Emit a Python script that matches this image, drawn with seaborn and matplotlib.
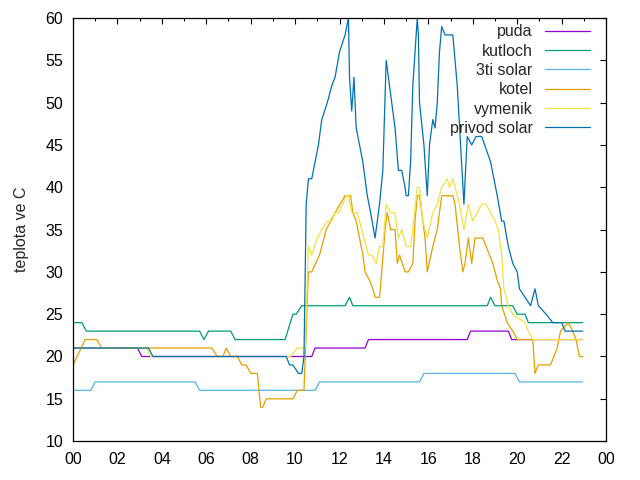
import matplotlib
matplotlib.use("Agg")
import matplotlib.pyplot as plt
import seaborn as sns

# hours of day and temperatures (deg C)
puda_t = [0, 2.9, 3.1, 10.75, 10.9, 13.15, 13.3, 17.75, 17.9, 19.6, 19.75, 22.95]
puda_v = [21, 21, 20, 20, 21, 21, 22, 22, 23, 23, 22, 22]

kutloch_t = [0, 0.4, 0.6, 5.7, 5.9, 6.1, 7.1, 7.3, 9.55, 9.9, 10.05, 10.3,
             12.25, 12.45, 12.6, 18.65, 18.8, 19.0, 19.8, 20.0, 20.35, 20.5, 22.95]
kutloch_v = [24, 24, 23, 23, 22, 23, 23, 22, 22, 25, 25, 26,
             26, 27, 26, 26, 27, 26, 26, 25, 25, 24, 24]

solar3_t = [0, 0.8, 1.0, 5.5, 5.7, 10.9, 11.1, 15.6, 15.8, 19.9, 20.1, 22.95]
solar3_v = [16, 16, 17, 17, 16, 16, 17, 17, 18, 18, 17, 17]

kotel_t = [0, 0.55, 1.07, 1.3, 6.25, 6.5, 6.75, 6.9, 7.1, 7.4, 7.6, 7.8, 8.0, 8.3,
           8.45, 8.55, 8.7, 9.9, 10.1, 10.4, 10.6, 10.75, 11.1, 11.4, 11.6, 11.8,
           12.25, 12.5, 12.6, 12.75, 12.9, 13.05, 13.15, 13.35, 13.5, 13.6, 13.8,
           13.9, 14.05, 14.15, 14.3, 14.5, 14.6, 14.7, 14.95, 15.1, 15.3, 15.4,
           15.5, 15.6, 15.7, 15.85, 15.95, 16.2, 16.4, 16.6, 17.1, 17.2, 17.4,
           17.55, 17.65, 17.8, 17.9, 17.95, 18.1, 18.45, 18.6, 18.9, 19.1, 19.25,
           19.3, 19.55, 19.8, 20.0, 20.7, 20.8, 20.95, 21.5, 21.65, 21.8, 21.95,
           22.3, 22.5, 22.65, 22.8, 22.95]
kotel_v = [19, 22, 22, 21, 21, 20, 20, 21, 20, 20, 19, 19, 18, 18,
           14, 14, 15, 15, 16, 16, 30, 30, 32, 35, 36, 37,
           39, 39, 37, 36, 34, 32, 30, 29, 28, 27, 27,
           30, 35, 37, 35, 35, 31, 32, 30, 30, 31, 36,
           39, 39, 37, 34, 30, 33, 35, 39, 39, 38, 33,
           30, 31, 34, 32, 31, 34, 34, 33, 31, 29, 28,
           26, 24, 23, 22, 22, 18, 19, 19, 20, 21, 23,
           24, 23, 22, 20, 20]

vymenik_t = [0, 3.3, 3.5, 9.8, 10.1, 10.45, 10.6, 10.75, 11.0, 11.2, 11.45, 11.65,
             11.8, 11.95, 12.15, 12.3, 12.4, 12.55, 12.8, 13.0, 13.3, 13.45, 13.65,
             13.8, 13.95, 14.1, 14.3, 14.5, 14.65, 14.8, 15.0, 15.2, 15.3, 15.5,
             15.6, 15.75, 15.95, 16.2, 16.4, 16.6, 16.85, 16.95, 17.1, 17.3, 17.4,
             17.6, 17.8, 18.0, 18.2, 18.4, 18.6, 18.8, 19.0, 19.15, 19.3, 19.4,
             19.6, 19.8, 20.35, 20.5, 20.7, 22.95]
vymenik_v = [21, 21, 20, 20, 21, 21, 33, 32, 34, 35, 36, 36,
             37, 37, 38, 39, 39, 37, 37, 35, 32, 32, 31,
             33, 33, 38, 37, 37, 34, 35, 33, 33, 35, 40,
             40, 36, 34, 37, 38, 40, 41, 40, 41, 39, 38,
             35, 38, 36, 37, 38, 38, 37, 36, 35, 32, 28,
             26, 25, 24, 23, 22, 22]

privod_t = [0, 3.4, 3.6, 9.6, 9.75, 9.9, 10.15, 10.3, 10.4, 10.5, 10.6, 10.75,
            10.9, 11.05, 11.2, 11.45, 11.65, 11.8, 12.0, 12.25, 12.4, 12.45, 12.55,
            12.65, 12.75, 13.05, 13.25, 13.4, 13.6, 13.8, 13.95, 14.1, 14.2, 14.35,
            14.5, 14.65, 14.8, 14.95, 15.0, 15.1, 15.2, 15.3, 15.5, 15.55, 15.6,
            15.8, 15.95, 16.05, 16.2, 16.3, 16.4, 16.5, 16.6, 16.75, 17.1, 17.3,
            17.45, 17.6, 17.75, 17.95, 18.15, 18.4, 18.8, 19.1, 19.3, 19.4, 19.6,
            19.8, 20.0, 20.1, 20.35, 20.6, 20.8, 20.95, 21.3, 21.6, 22.0, 22.15, 22.95]
privod_v = [21, 21, 20, 20, 19, 19, 18, 18, 20, 38, 41, 41,
            43, 45, 48, 50, 52, 53, 56, 58, 60, 53, 49,
            53, 47, 43, 39, 37, 34, 38, 42, 55, 53, 50,
            47, 42, 42, 40, 39, 39, 43, 52, 60, 58, 50,
            45, 39, 45, 48, 47, 50, 56, 59, 58, 58, 52,
            45, 38, 46, 45, 46, 46, 43, 39, 36, 36, 33,
            31, 30, 28, 27, 26, 28, 26, 25, 24, 24, 23, 23]

series = [
    ("puda", puda_t, puda_v, "#9400d3"),
    ("kutloch", kutloch_t, kutloch_v, "#009e73"),
    ("3ti solar", solar3_t, solar3_v, "#56b4e9"),
    ("kotel", kotel_t, kotel_v, "#e69f00"),
    ("vymenik", vymenik_t, vymenik_v, "#f0e442"),
    ("privod solar", privod_t, privod_v, "#0072b2"),
]

sns.set_style("white")
plt.rcParams['font.family'] = ['Liberation Sans', 'DejaVu Sans']
plt.rcParams['font.size'] = 11.5

fig = plt.figure(figsize=(6.4, 4.8), dpi=100)
ax = fig.add_axes([0.114, 0.081, 0.833, 0.8815])

for name, t, v, col in series:
    sns.lineplot(x=t, y=v, ax=ax, color=col, label=name, lw=0.9)

ax.set_xlim(0, 24)
ax.set_ylim(10, 60)
ax.set_xticks(range(0, 25, 2))
ax.set_xticklabels(["%02d" % (h % 24) for h in range(0, 25, 2)])
ax.set_xticks(range(0, 25), minor=True)
ax.set_yticks(range(10, 61, 5))
ax.tick_params(which="both", direction="in", top=True, right=True, colors="black")
ax.tick_params(which="major", length=4.5, width=0.8)
ax.tick_params(axis="x", which="major", pad=8)
ax.tick_params(axis="y", which="major", pad=7)
ax.tick_params(which="minor", length=2.2, width=0.8)
for s in ax.spines.values():
    s.set_color("black")
    s.set_linewidth(0.9)
ax.set_xlabel("")
ax.set_ylabel("teplota ve C", labelpad=12)

ax.legend(loc="upper right", bbox_to_anchor=(0.982, 1.0), frameon=False,
          markerfirst=False, handlelength=2.8, handletextpad=0.8,
          labelspacing=0.27, borderaxespad=0)

fig.savefig("out.png", dpi=100)
